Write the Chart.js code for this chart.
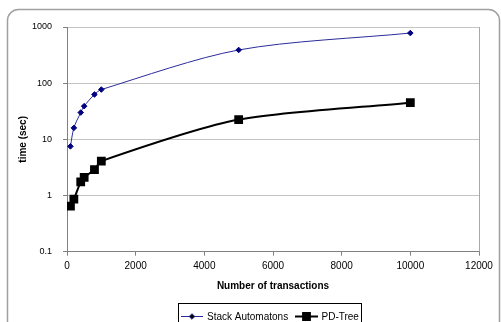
<!DOCTYPE html>
<html>
<head>
<meta charset="utf-8">
<script src="https://cdn.jsdelivr.net/npm/chart.js@4"></script>
<style>
  html, body { margin: 0; padding: 0; background: #fff; }
  canvas { display: block; }
</style>
</head>
<body>
<canvas id="myChart" width="501" height="322"></canvas>
<script>
const transactions = [100, 200, 400, 500, 800, 1000, 5000, 10000];
const stackAutomatons = [7.5, 16, 30, 39, 63, 77, 390, 780];
const pdTree = [0.65, 0.86, 1.75, 2.1, 2.9, 4.1, 22.5, 45];
const yTicks = [0.1, 1, 10, 100, 1000];
const seriesNames = ["Stack Automatons", "PD-Tree"];

const FONT = "'Liberation Sans', Arial, sans-serif";

// outer rounded frame, right edge of plot area, and the boxed legend
const framePlugin = {
  id: "frame",
  beforeDraw(chart) {
    const c = chart.ctx;
    c.save();
    c.strokeStyle = "#a0a0a0";
    c.lineWidth = 1.5;
    c.beginPath();
    c.roundRect(7.5, 9.5, 492, 330, 11);
    c.stroke();
    c.restore();
  },
  afterDatasetsDraw(chart) {
    const c = chart.ctx;
    const a = chart.chartArea;
    c.save();
    c.strokeStyle = "#a8a8a8";
    c.lineWidth = 1;
    c.beginPath();
    c.moveTo(Math.round(a.right) + 0.5, a.top);
    c.lineTo(Math.round(a.right) + 0.5, a.bottom);
    c.stroke();

    // legend
    c.strokeStyle = "#000";
    c.strokeRect(178.5, 303.5, 183, 30);
    const ds = chart.data.datasets;
    const items = [
      { x0: 181, x1: 203, tx: 207 },
      { x0: 295, x1: 318, tx: 321.5 }
    ];
    const ly = 316.5;
    c.font = "10px " + FONT;
    c.textBaseline = "middle";
    items.forEach((it, i) => {
      const d = ds[i];
      c.strokeStyle = d.borderColor;
      c.lineWidth = d.borderWidth;
      c.beginPath();
      c.moveTo(it.x0, ly);
      c.lineTo(it.x1, ly);
      c.stroke();
      Chart.helpers.drawPoint(c, {
        pointStyle: d.pointStyle,
        radius: d.pointRadius,
        borderWidth: 1
      }, (it.x0 + it.x1) / 2, ly);
      c.fillStyle = "#000";
      c.fillText(seriesNames[i], it.tx, ly + 0.5);
    });
    c.restore();
  }
};

const ctx = document.getElementById("myChart");

const chart = new Chart(ctx, {
  type: "line",
  data: {
    datasets: [
      {
        label: seriesNames[0],
        data: transactions.map((x, i) => ({ x: x, y: stackAutomatons[i] })),
        borderColor: "#2b2b9c",
        backgroundColor: "#000080",
        pointBackgroundColor: "#000080",
        pointBorderColor: "#000080",
        borderWidth: 1,
        pointStyle: "rectRot",
        pointRadius: 2.8,
        tension: 0.3,
      },
      {
        label: seriesNames[1],
        data: transactions.map((x, i) => ({ x: x, y: pdTree[i] })),
        borderColor: "#000",
        backgroundColor: "#000",
        pointBackgroundColor: "#000",
        pointBorderColor: "#000",
        borderWidth: 2,
        pointStyle: "rect",
        pointRadius: 4.8,
        tension: 0.25,
      },
    ],
  },
  options: {
    responsive: false,
    animation: false,
    events: [],
    layout: {
      padding: { left: 13, right: 22, top: 27, bottom: 26 },
    },
    plugins: {
      legend: { display: false },
      tooltip: { enabled: false },
    },
    scales: {
      x: {
        type: "linear",
        min: 0,
        max: 12000,
        afterFit: (s) => { s.height = 44.3; },
        ticks: {
          stepSize: 2000,
          padding: 5,
          color: "#000",
          font: { family: FONT, size: 10 },
          callback: (v) => String(v),
        },
        grid: {
          drawOnChartArea: false,
          drawTicks: true,
          tickLength: 4,
          tickColor: "#808080",
        },
        border: { color: "#808080", width: 1 },
        title: {
          display: true,
          text: "Number of transactions",
          color: "#000",
          font: { family: FONT, size: 10, weight: "bold" },
          padding: { top: 4, bottom: 4 },
        },
      },
      y: {
        type: "logarithmic",
        min: 0.1,
        max: 1000,
        afterFit: (s) => { s.width = 54; },
        afterBuildTicks: (s) => { s.ticks = yTicks.map((v) => ({ value: v })); },
        ticks: {
          padding: 11,
          color: "#000",
          font: { family: FONT, size: 9 },
          callback: (v) => String(v),
        },
        grid: {
          color: "#c4c4c4",
          drawTicks: true,
          tickLength: 4,
          tickColor: "#808080",
        },
        border: { color: "#808080", width: 1 },
        title: {
          display: true,
          text: "time (sec)",
          color: "#000",
          font: { family: FONT, size: 10, weight: "bold" },
          padding: { top: 4, bottom: 4 },
        },
      },
    },
  },
  plugins: [framePlugin],
});
</script>
</body>
</html>
